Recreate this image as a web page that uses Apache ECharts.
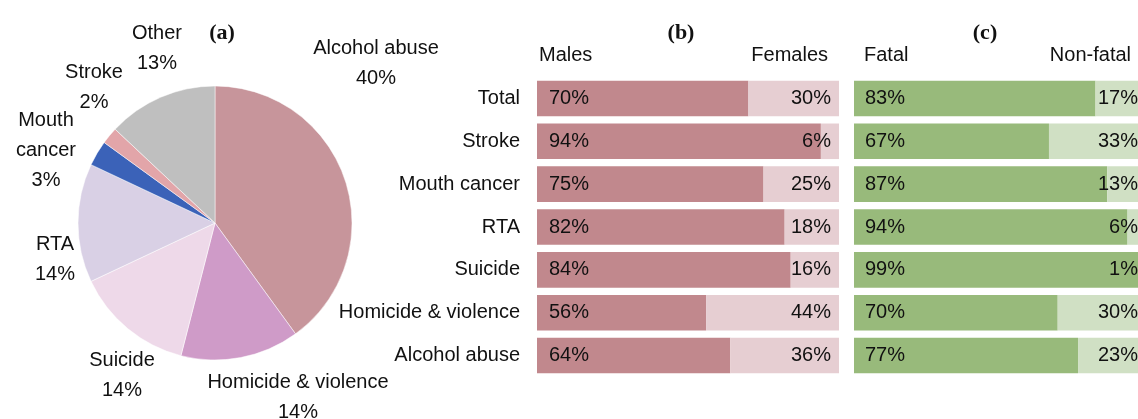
<!DOCTYPE html>
<html>
<head>
<meta charset="utf-8">
<script src="https://cdn.jsdelivr.net/npm/echarts@6/dist/echarts.min.js"></script>
<style>
  html, body { margin: 0; padding: 0; background: #fff; }
  #chart { width: 1138px; height: 419px; }
</style>
</head>
<body>
<div id="chart"></div>
<script>
  // (a) share of alcohol-attributable burden
  const pieNames = ['Alcohol abuse', 'Homicide & violence', 'Suicide', 'RTA', 'Mouth cancer', 'Stroke', 'Other']
  const pieValues = [40, 14, 14, 14, 3, 2, 13]
  const pieColors = ['#c7959b', '#cf9bc8', '#eed9e9', '#d9d0e5', '#3b62b8', '#e2a5a9', '#bfbfbf']
  // label centres for the pie (Excel style placement)
  const pieLabelPos = [[376, 63], [298, 397], [122, 375], [55, 259], [46, 150], [94, 87], [157, 48]]

  // (b) and (c)
  const causes = ['Total', 'Stroke', 'Mouth cancer', 'RTA', 'Suicide', 'Homicide & violence', 'Alcohol abuse']
  const males = [70, 94, 75, 82, 84, 56, 64]
  const females = [30, 6, 25, 18, 16, 44, 36]
  const fatal = [83, 67, 87, 94, 99, 70, 77]
  const nonFatal = [17, 33, 13, 6, 1, 30, 23]

  const font = '"Liberation Sans", Arial, sans-serif'
  const txt = { fontFamily: font, fontSize: 20, color: '#111' }
  const headFont = 'bold 22px "Liberation Serif", serif'

  const chart = echarts.init(document.getElementById('chart'))

  function barSeries(name, data, color, axis, pos, dist) {
    return {
      name: name,
      type: 'bar',
      stack: 'g' + axis,
      xAxisIndex: axis,
      yAxisIndex: axis,
      data: data,
      barCategoryGap: '17%',
      clip: false,
      itemStyle: { color: color },
      label: {
        show: true,
        position: pos,
        distance: dist,
        formatter: '{c}%',
        ...txt
      },
      emphasis: { disabled: true }
    }
  }

  chart.setOption({
    animation: false,
    graphic: [
      { type: 'text', x: 222, y: 33, style: { text: '(a)', font: headFont, fill: '#111', align: 'center', verticalAlign: 'middle' } },
      { type: 'text', x: 681, y: 33, style: { text: '(b)', font: headFont, fill: '#111', align: 'center', verticalAlign: 'middle' } },
      { type: 'text', x: 985, y: 33, style: { text: '(c)', font: headFont, fill: '#111', align: 'center', verticalAlign: 'middle' } },
      { type: 'text', x: 539, y: 55, style: { text: 'Males', font: '20px ' + font, fill: '#111', verticalAlign: 'middle' } },
      { type: 'text', x: 828, y: 55, style: { text: 'Females', font: '20px ' + font, fill: '#111', align: 'right', verticalAlign: 'middle' } },
      { type: 'text', x: 864, y: 55, style: { text: 'Fatal', font: '20px ' + font, fill: '#111', verticalAlign: 'middle' } },
      { type: 'text', x: 1131, y: 55, style: { text: 'Non-fatal', font: '20px ' + font, fill: '#111', align: 'right', verticalAlign: 'middle' } }
    ],
    grid: [
      { left: 537, top: 77, width: 302, height: 300, outerBoundsMode: 'none' },
      { left: 854, top: 77, width: 291, height: 300, outerBoundsMode: 'none' }
    ],
    xAxis: [
      { type: 'value', gridIndex: 0, min: 0, max: 100, show: false },
      { type: 'value', gridIndex: 1, min: 0, max: 100, show: false }
    ],
    yAxis: [
      {
        type: 'category', gridIndex: 0, data: causes, inverse: true,
        axisLine: { show: false }, axisTick: { show: false },
        axisLabel: { margin: 17, ...txt }
      },
      {
        type: 'category', gridIndex: 1, data: causes, inverse: true,
        axisLine: { show: false }, axisTick: { show: false }, axisLabel: { show: false }
      }
    ],
    series: [
      {
        name: 'Share',
        type: 'pie',
        center: [215, 223],
        radius: 137,
        startAngle: 90,
        clockwise: true,
        data: pieNames.map((n, i) => ({ name: n, value: pieValues[i], itemStyle: { color: pieColors[i] } })),
        itemStyle: { borderColor: '#fff', borderWidth: 0.5 },
        label: {
          show: true,
          position: 'outside',
          overflow: 'none',
          formatter: p => (p.name === 'Mouth cancer' ? 'Mouth\ncancer' : p.name) + '\n' + pieValues[p.dataIndex] + '%',
          lineHeight: 30,
          align: 'center',
          ...txt
        },
        labelLine: { show: false },
        labelLayout: function (params) {
          const p = pieLabelPos[params.dataIndex]
          return { x: p[0], y: p[1], align: 'center', verticalAlign: 'middle', width: 300 }
        },
        emphasis: { disabled: true }
      },
      barSeries('Males', males, '#c1888d', 0, 'insideLeft', 12),
      barSeries('Females', females, '#e6ced2', 0, 'insideRight', 8),
      barSeries('Fatal', fatal, '#98ba7b', 1, 'insideLeft', 11),
      barSeries('Non-fatal', nonFatal, '#d0e0c4', 1, 'insideRight', 7)
    ]
  })
</script>
</body>
</html>
